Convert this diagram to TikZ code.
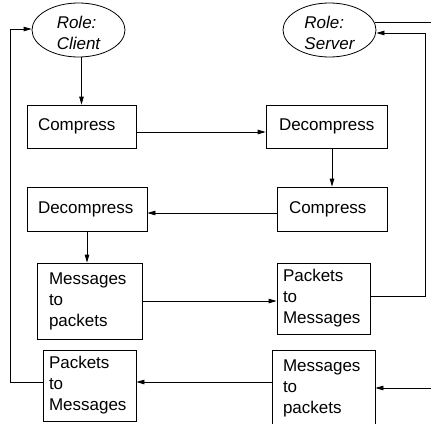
\documentclass[tikz,border=0pt]{standalone}
\usepackage{fontspec}
\setmainfont{Liberation Sans}
\usetikzlibrary{shapes.geometric,arrows.meta}
\begin{document}
\begin{tikzpicture}[x=1pt,y=-1pt,line width=0.8pt,
  txt/.style={font=\fontsize{17}{21}\selectfont},
  box/.style n args={3}{draw, rectangle, txt, align=left, inner ysep=0pt,
    inner xsep=#3pt, minimum width=#1pt, minimum height=#2pt, text width=#1pt-2*#3pt},
  role/.style={draw, ellipse, minimum width=93pt, minimum height=54pt, inner sep=0pt},
  roletxt/.style={font=\fontsize{17}{21}\selectfont\itshape, align=left, inner sep=0pt},
  arr/.style={-{Triangle[length=8pt,width=4.5pt]}}]
\useasboundingbox (0,0) rectangle (431,423);

% roles
\node[role] (cli) at (78.5,30) {};
\node[roletxt] (clit) at (78.5,33) {Role:\\Client};
\node[role] (srv) at (329.5,30) {};
\node[roletxt] (srvt) at (329.5,33) {Role:\\Server};

% boxes
\node[box={109}{43}{11}] (c1) at (81.5,126.5) {Compress};
\node[box={121}{43}{13}] (d1) at (326.5,126.5) {Decompress};
\node[box={110}{44}{12}] (c2) at (332,209) {Compress};
\node[box={120}{44}{11}] (d2) at (87,209) {Decompress};
\node[box={105}{76}{12}] (m1) at (89.5,301) {Messages\\to\\packets};
\node[box={93}{71}{6}] (p1) at (323.5,298.5) {Packets\\to\\Messages};
\node[box={93}{71}{6}] (p2) at (89.5,385.5) {Packets\\to\\Messages};
\node[box={103}{76}{11}] (m2) at (323.5,388) {Messages\\to\\packets};

% helper coordinates
\coordinate (rv) at (425,33);
\coordinate (so) at (431,23);
\coordinate (si) at (431,388);
\coordinate (lb) at (10,382);
\coordinate (lt) at (10,29);

% connectors
\draw[arr] (cli.south -| c1.north) -- (c1.north);
\draw[arr] ([yshift=-5.5pt]c1.east) -- ([yshift=-5.5pt]d1.west);
\draw[arr] (c2.north |- d1.south) -- (c2.north);
\draw[arr] ([yshift=-4pt]c2.west) -- ([yshift=-4pt]d2.east);
\draw[arr] (d2.south) -- (d2.south |- m1.north);
\draw[arr] (m1.east) -- (m1.east -| p1.west);
\draw[arr] ([yshift=2.5pt]p1.east) -| (rv) -- (rv -| srv.east);
\draw (srv.9) -- (srv.9 -| so);
\draw[arr] (si) -- (m2.east);
\draw[arr] (m2.west |- lb) -- (p2.east |- lb);
\draw[arr] (p2.west |- lb) -- (lb) -- (lt) -- (lt -| cli.west);
\end{tikzpicture}
\end{document}
